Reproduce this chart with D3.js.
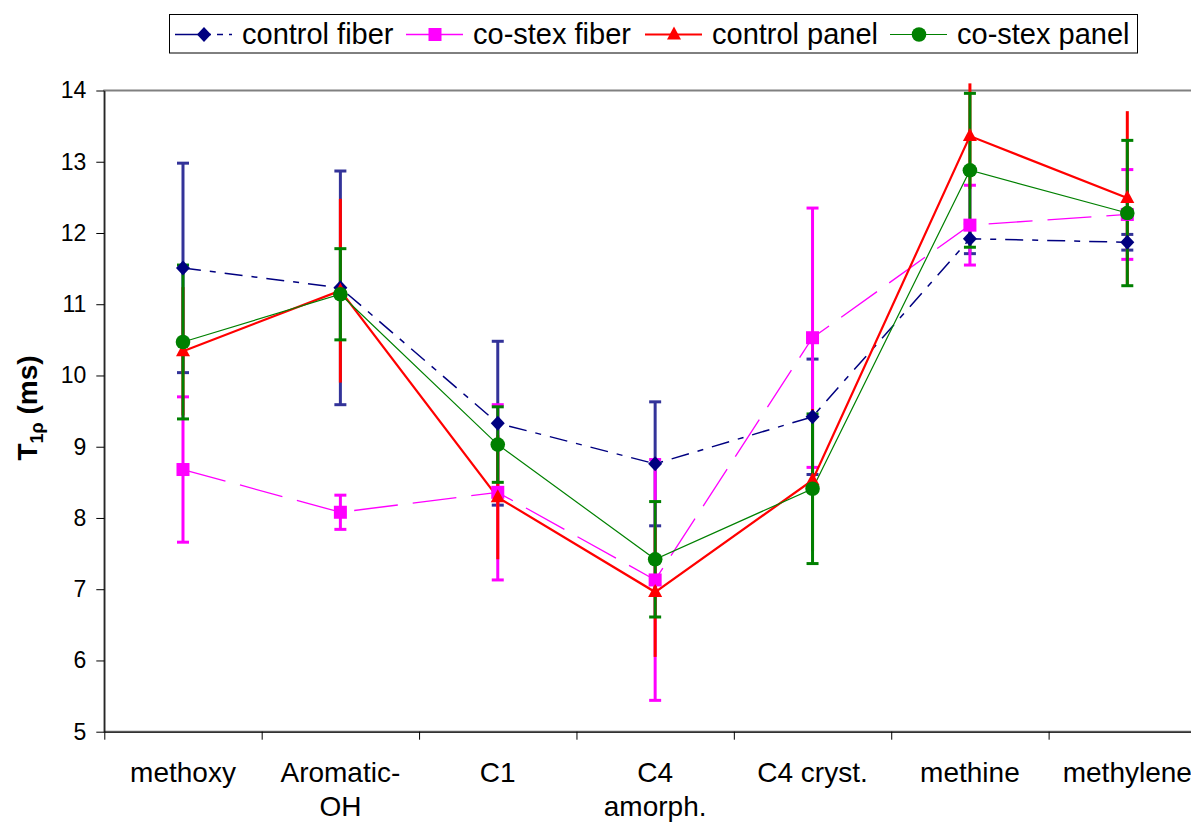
<!DOCTYPE html>
<html>
<head>
<meta charset="utf-8">
<script src="https://cdnjs.cloudflare.com/ajax/libs/d3/7.8.5/d3.min.js"></script>
<style>
  body { margin: 0; background: #fff; }
  svg text { font-family: "Liberation Sans", Arial, sans-serif; }
</style>
</head>
<body>
<svg id="chart" width="1191" height="823"></svg>
<script>
// categories (label lines kept separate for the two-line ones)
const categories = ["methoxy", "Aromatic-OH", "C1", "C4 amorph.", "C4 cryst.", "methine", "methylene"];
const categoryLines = [["methoxy"], ["Aromatic-", "OH"], ["C1"], ["C4", "amorph."], ["C4 cryst."], ["methine"], ["methylene"]];
const yTicks = [5, 6, 7, 8, 9, 10, 11, 12, 13, 14];

// T1rho values (ms) and +/- error
const controlFiber    = [11.51, 11.23, 9.33, 8.76, 9.42, 11.92, 11.87];
const controlFiberErr = [1.47, 1.64, 1.15, 0.87, 0.81, 0.21, 0.11];
const costexFiber     = [8.68, 8.08, 8.36, 7.13, 10.53, 12.11, 12.26];
const costexFiberErr  = [1.02, 0.24, 1.23, 1.69, 1.82, 0.56, 0.63];
const controlPanel    = [10.34, 11.19, 8.29, 6.96, 8.53, 13.36, 12.49];
const controlPanelErr = [0.90, 1.29, 0.87, 0.91, 1.00, 0.74, 1.22];
const costexPanel     = [10.47, 11.14, 9.03, 7.42, 8.41, 12.88, 12.28];
const costexPanelErr  = [1.08, 0.64, 0.53, 0.81, 1.05, 1.08, 1.02];

const seriesNames = ["control fiber", "co-stex fiber", "control panel", "co-stex panel"];

// styles per series
const styles = [
  {color: "#000080", err: "#333399", dash: "18,9,6,9", width: 1.5, marker: "diamond", caps: true},
  {color: "#FF00FF", err: "#FF00FF", dash: "44,15",    width: 1.3, marker: "square",  caps: true},
  {color: "#FF0000", err: "#FF0000", dash: null,       width: 2.2, marker: "triangle",caps: false},
  {color: "#008000", err: "#008000", dash: null,       width: 1.2, marker: "circle",  caps: true}
];

const series = [
  {values: controlFiber, errs: controlFiberErr},
  {values: costexFiber,  errs: costexFiberErr},
  {values: controlPanel, errs: controlPanelErr},
  {values: costexPanel,  errs: costexPanelErr}
];

const svg = d3.select("#chart");

// plot area (runs off the right edge, like the original)
const plotLeft = 104.3, plotTop = 90.5, plotRight = 1206, plotBottom = 731.7;

const xScale = d3.scaleBand().domain(categories).range([plotLeft, plotRight]);
const xBound = d3.scaleLinear().domain([0, categories.length]).range([plotLeft, plotRight]);
const yScale = d3.scaleLinear().domain([5, 14]).range([plotBottom, plotTop]);

// plot area border
svg.append("rect")
  .attr("x", plotLeft).attr("y", plotTop)
  .attr("width", plotRight - plotLeft).attr("height", plotBottom - plotTop)
  .attr("fill", "none")
  .attr("stroke", "#808080")
  .attr("stroke-width", 2);

// y axis
const gY = svg.append("g")
  .attr("transform", "translate(" + plotLeft + ",0)")
  .call(d3.axisLeft(yScale).tickValues(yTicks).tickSize(8).tickSizeOuter(0).tickPadding(10));
gY.selectAll("text").attr("font-size", 23).attr("fill", "#000")
  .style("font-family", "'Liberation Sans', Arial, sans-serif");
gY.selectAll("line, path").attr("stroke", "#000");

// x axis: ticks between categories
const gX = svg.append("g")
  .attr("transform", "translate(0," + plotBottom + ")")
  .call(d3.axisBottom(xBound).tickValues(d3.range(0, categories.length + 1)).tickFormat("").tickSize(8).tickSizeOuter(0));
gX.selectAll("line, path").attr("stroke", "#000");

// category labels
categoryLines.forEach(function(lines, i) {
  let t = svg.append("text")
    .attr("text-anchor", "middle")
    .attr("font-size", 28)
    .attr("fill", "#000");
  lines.forEach(function(s, j) {
    t.append("tspan")
      .attr("x", xScale.bandwidth() / 2 + xScale(categories[i]))
      .attr("y", 782 + j * 34)
      .text(s);
  });
});

// y title  T1ρ (ms)
const yTitle = svg.append("text")
  .attr("transform", "translate(37,408)rotate(-90)")
  .attr("text-anchor", "middle")
  .attr("font-size", 28)
  .attr("font-weight", "bold")
  .attr("fill", "#000");
yTitle.append("tspan").text("T");
yTitle.append("tspan").attr("font-size", 18).attr("dy", 6).text("1ρ");
yTitle.append("tspan").attr("dy", -6).text(" (ms)");

const cx = function(i) { return xScale(categories[i]) + xScale.bandwidth() / 2; };

// error bars (all series first, markers end up on top)
series.forEach(function(s, k) {
  const st = styles[k];
  const g = svg.append("g").attr("stroke", st.err).attr("stroke-width", 3);
  s.values.forEach(function(v, i) {
    const hi = v + s.errs[i], lo = v - s.errs[i];
    g.append("line")
      .attr("x1", cx(i)).attr("x2", cx(i))
      .attr("y1", yScale(hi)).attr("y2", yScale(lo));
    if (st.caps) {
      [hi, lo].forEach(function(e) {
        g.append("line")
          .attr("x1", cx(i) - 6).attr("x2", cx(i) + 6)
          .attr("y1", yScale(e)).attr("y2", yScale(e));
      });
    }
  });
});

// connecting lines
const line = d3.line()
  .x(function(d, i) { return cx(i); })
  .y(function(d) { return yScale(d); });

series.forEach(function(s, k) {
  const st = styles[k];
  svg.append("path")
    .datum(s.values)
    .attr("d", line)
    .attr("fill", "none")
    .attr("stroke", st.color)
    .attr("stroke-width", st.width)
    .attr("stroke-dasharray", st.dash);
});

// marker shapes
const drawMarker = function(g, type, x, y, color) {
  if (type === "diamond") {
    g.append("path").attr("d", "M" + x + "," + (y - 7.5) + "L" + (x + 7) + "," + y + "L" + x + "," + (y + 7.5) + "L" + (x - 7) + "," + y + "Z").attr("fill", color);
  } else if (type === "square") {
    g.append("rect").attr("x", x - 6.5).attr("y", y - 6.5).attr("width", 13).attr("height", 13).attr("fill", color);
  } else if (type === "triangle") {
    g.append("path").attr("d", "M" + x + "," + (y - 8) + "L" + (x + 7) + "," + (y + 5) + "L" + (x - 7) + "," + (y + 5) + "Z").attr("fill", color);
  } else {
    g.append("circle").attr("cx", x).attr("cy", y).attr("r", 7.3).attr("fill", color);
  }
};

series.forEach(function(s, k) {
  const st = styles[k];
  const g = svg.append("g");
  s.values.forEach(function(v, i) {
    drawMarker(g, st.marker, cx(i), yScale(v), st.color);
  });
});

// legend
const legend = svg.append("g");
legend.append("rect")
  .attr("x", 169.5).attr("y", 14.5)
  .attr("width", 968).attr("height", 38.5)
  .attr("fill", "#fff")
  .attr("stroke", "#000")
  .attr("stroke-width", 1);

const legendX = [175, 406, 645, 890];
seriesNames.forEach(function(name, k) {
  const st = styles[k];
  const x0 = legendX[k];
  legend.append("line")
    .attr("x1", x0).attr("x2", x0 + 57)
    .attr("y1", 34.5).attr("y2", 34.5)
    .attr("stroke", st.color)
    .attr("stroke-width", st.width)
    .attr("stroke-dasharray", k === 0 ? "36,6,6,6" : null);
  drawMarker(legend, st.marker, x0 + 29, 34.5, st.color);
  legend.append("text")
    .attr("x", x0 + 67).attr("y", 44)
    .attr("font-size", 29)
    .attr("fill", "#000")
    .text(name);
});
</script>
</body>
</html>
